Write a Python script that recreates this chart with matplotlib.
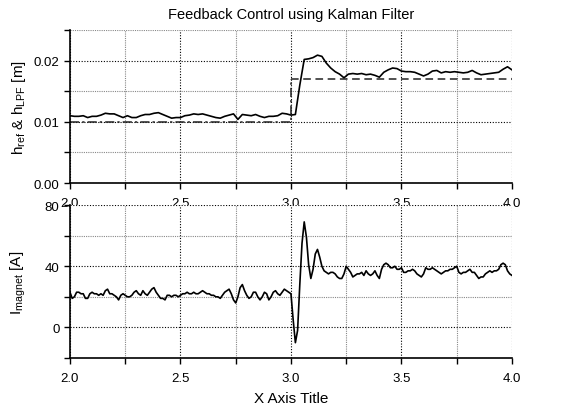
import numpy as np
import matplotlib
matplotlib.use("Agg")
import matplotlib.pyplot as plt
from matplotlib.ticker import MultipleLocator, FormatStrFormatter

plt.rcParams['font.family'] = ['Liberation Sans', 'DejaVu Sans']
plt.rcParams['mathtext.fontset'] = 'custom'
plt.rcParams['mathtext.rm'] = 'Liberation Sans'
plt.rcParams['mathtext.it'] = 'Liberation Sans'

# measured levitation height (low pass filtered), 0.02 s steps from 2.0 to 4.0
t_h = np.linspace(2.0, 4.0, 101)
h_lpf = [0.0110, 0.0109, 0.0109, 0.0110, 0.0107, 0.0109, 0.0109, 0.0111, 0.0114, 0.0113,
         0.0113, 0.0110, 0.0107, 0.0110, 0.0107, 0.0107, 0.0110, 0.0112, 0.0112, 0.0114,
         0.0115, 0.0112, 0.0109, 0.0106, 0.0107, 0.0107, 0.0110, 0.0111, 0.0113, 0.0112,
         0.0113, 0.0111, 0.0109, 0.0107, 0.0106, 0.0109, 0.0111, 0.0113, 0.0104, 0.0112,
         0.0111, 0.0110, 0.0112, 0.0109, 0.0107, 0.0109, 0.0109, 0.0110, 0.0114, 0.0113,
         0.0111,
         0.0112, 0.0160, 0.0202, 0.0203, 0.0205, 0.0209, 0.0207, 0.0196, 0.0188, 0.0182,
         0.0178, 0.0172, 0.0178, 0.0179, 0.0178, 0.0179, 0.0177, 0.0178, 0.0176, 0.0173,
         0.0181, 0.0185, 0.0188, 0.0187, 0.0183, 0.0182, 0.0182, 0.0181, 0.0178, 0.0175,
         0.0178, 0.0183, 0.0184, 0.0180, 0.0182, 0.0181, 0.0182, 0.0181, 0.0180, 0.0181,
         0.0184, 0.0180, 0.0177, 0.0178, 0.0179, 0.0180, 0.0181, 0.0186, 0.0190, 0.0185]

# reference height (step at t = 3.0)
ref_t = [2.0, 3.0, 3.0, 4.0]
ref_h = [0.010, 0.010, 0.017, 0.017]

# magnet current, 0.01 s steps from 2.0 to 4.0
t_i = np.linspace(2.0, 4.0, 201)
i_magnet = [23, 19, 20, 23, 23, 22, 22, 19, 19, 22,
            23, 22, 22, 21, 22, 21, 24, 25, 22, 22,
            21, 20, 18, 21, 22, 21, 20, 20, 21, 23,
            24, 22, 21, 24, 22, 21, 23, 25, 26, 23,
            21, 19, 19, 18, 21, 21, 20, 21, 21, 20,
            21, 22, 22, 23, 22, 22, 23, 22, 22, 23,
            24, 23, 22, 22, 21, 21, 20, 20, 19, 21,
            23, 24, 25, 22, 18, 16, 20, 26, 28, 24,
            21, 19, 20, 23, 23, 20, 18, 20, 23, 22,
            18, 20, 23, 24, 22, 21, 23, 25, 24, 23,
            22, 5, -10, -2, 28, 55, 69, 59, 41, 32,
            38, 48, 51, 46, 40, 37, 36, 35, 36, 36,
            35, 33, 32, 32, 35, 40, 38, 36, 33, 34,
            35, 35, 36, 34, 37, 35, 34, 35, 37, 34,
            32, 38, 41, 42, 41, 39, 39, 40, 38, 38,
            39, 36, 36, 37, 37, 38, 37, 35, 34, 33,
            35, 39, 38, 38, 39, 38, 37, 36, 35, 36,
            37, 37, 38, 38, 39, 40, 36, 35, 36, 36,
            37, 38, 36, 36, 34, 32, 33, 33, 35, 36,
            37, 36, 37, 37, 38, 41, 42, 41, 37, 35,
            34]

fig = plt.figure(figsize=(5.63, 4.10), dpi=100)
ax1 = fig.add_axes([0.1243, 0.5512, 0.785, 0.373])
ax2 = fig.add_axes([0.1243, 0.1244, 0.785, 0.373])

ax1.plot(ref_t[:3], ref_h[:3], color='#222222', lw=1.1, dashes=[6, 2, 1.5, 2])
ax1.plot(ref_t[2:], ref_h[2:], color='#222222', lw=1.1, dashes=[5, 3])
ax1.plot(t_h, h_lpf, color='black', lw=1.2)
ax2.plot(t_i, i_magnet, color='black', lw=1.2)

ax1.set_ylim(0, 0.025)
ax1.yaxis.set_major_locator(MultipleLocator(0.01))
ax1.yaxis.set_minor_locator(MultipleLocator(0.005))
ax1.yaxis.set_major_formatter(FormatStrFormatter('%.2f'))
ax2.set_ylim(-20, 80)
ax2.yaxis.set_major_locator(MultipleLocator(40))
ax2.yaxis.set_minor_locator(MultipleLocator(20))

for ax in (ax1, ax2):
    ax.set_xlim(2.0, 4.0)
    ax.xaxis.set_major_locator(MultipleLocator(0.5))
    ax.xaxis.set_minor_locator(MultipleLocator(0.25))
    ax.xaxis.set_major_formatter(FormatStrFormatter('%.1f'))
    ax.spines['top'].set_visible(False)
    ax.spines['right'].set_visible(False)
    ax.spines['left'].set_linewidth(1.2)
    ax.spines['bottom'].set_linewidth(1.2)
    ax.tick_params(which='both', direction='out', length=4, width=1, labelsize=9.5)
    ax.tick_params(axis='x', pad=6)
    ax.grid(which='major', color='black', linestyle=(0, (1, 1.5)), lw=0.8)
    ax.grid(which='minor', color='#888888', linestyle=(0, (1, 1)), lw=0.8)
    ax.set_axisbelow(True)

ax1.set_ylabel(r'h$_{\mathrm{ref}}$ & h$_{\mathrm{LPF}}$ [m]', fontsize=11)
ax2.set_ylabel(r'I$_{\mathrm{magnet}}$ [A]', fontsize=11)
ax1.yaxis.set_label_coords(-0.095, 0.5)
ax2.yaxis.set_label_coords(-0.095, 0.5)
ax2.set_xlabel('X Axis Title', fontsize=11, labelpad=5)
ax1.set_title('Feedback Control using Kalman Filter', fontsize=10.5, pad=9)

fig.savefig('out.png', dpi=100)
